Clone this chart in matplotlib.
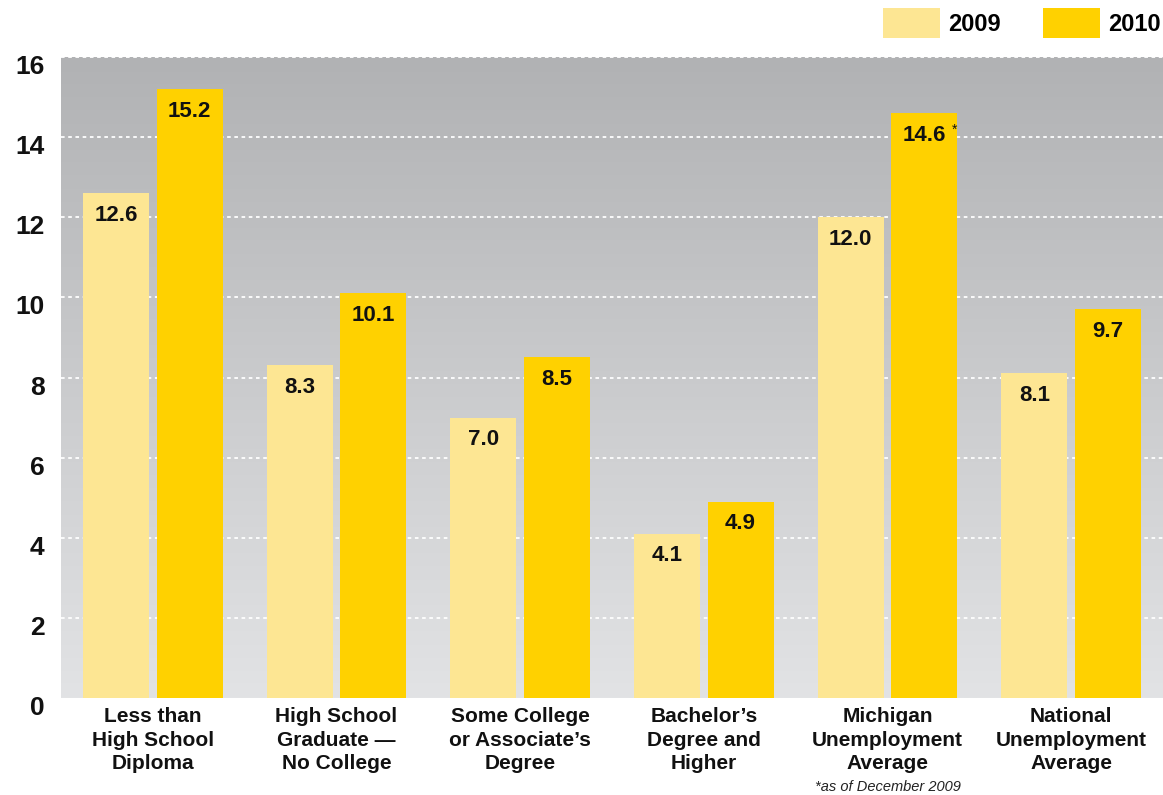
import numpy as np
import matplotlib.pyplot as plt
from matplotlib.colors import LinearSegmentedColormap

plt.rcParams['font.family'] = ['Liberation Sans', 'DejaVu Sans']

categories = ['Less than\nHigh School\nDiploma',
              'High School\nGraduate \u2014\nNo College',
              'Some College\nor Associate\u2019s\nDegree',
              'Bachelor\u2019s\nDegree and\nHigher',
              'Michigan\nUnemployment\nAverage',
              'National\nUnemployment\nAverage']
rate_2009 = [12.6, 8.3, 7.0, 4.1, 12.0, 8.1]
rate_2010 = [15.2, 10.1, 8.5, 4.9, 14.6, 9.7]
yticks = [0, 2, 4, 6, 8, 10, 12, 14, 16]

c2009 = '#fde693'
c2010 = '#ffd100'

fig = plt.figure(figsize=(11.63, 7.95), dpi=100)
ax = fig.add_axes([61 / 1163, 1 - 698 / 795, 1102 / 1163, 641 / 795])

x = np.arange(len(categories))
ax.set_xlim(-0.5, len(categories) - 0.5)
ax.set_ylim(0, 16)

# grey gradient background
grad = np.linspace(0, 1, 256).reshape(-1, 1)
cmap = LinearSegmentedColormap.from_list('bg', ['#e2e3e5', '#b1b2b4'])
ax.imshow(grad, extent=[-0.5, len(categories) - 0.5, 0, 16], origin='lower',
          aspect='auto', cmap=cmap, zorder=0)

for v in yticks[1:]:
    ax.axhline(v, color='white', lw=1.3, ls=(0, (2, 2)), zorder=1)

w = 0.36
b1 = ax.bar(x - 0.2, rate_2009, w, color=c2009, zorder=2, label='2009')
b2 = ax.bar(x + 0.2, rate_2010, w, color=c2010, zorder=2, label='2010')

for bars, vals in [(b1, rate_2009), (b2, rate_2010)]:
    for r, v in zip(bars, vals):
        ax.annotate('%.1f' % v, (r.get_x() + r.get_width() / 2, v),
                    xytext=(0, -16), textcoords='offset points',
                    ha='center', va='center', fontsize=16, fontweight='bold',
                    color='#111111', zorder=3)

# asterisk on the Michigan 2010 value
ax.annotate('*', (b2[4].get_x() + b2[4].get_width() / 2, rate_2010[4]),
            xytext=(20, -12), textcoords='offset points', ha='left', va='center',
            fontsize=10, color='#111111')

for s in ax.spines.values():
    s.set_visible(False)
ax.set_yticks([])
ax.set_xticks(x)
ax.set_xticklabels(categories, fontsize=15, fontweight='bold',
                   color='#111111', linespacing=1.3)
ax.tick_params(axis='x', length=0, pad=6.5)

for v in yticks:
    ax.text(-0.59, v - 0.25, str(v), ha='right', va='center',
            fontsize=19, fontweight='bold', color='#111111')

ax.text(4, -2.22, '*as of December 2009', ha='center', va='center',
        fontsize=10.5, style='italic', color='#222222')

fig.legend(handles=[b1, b2], loc='upper right', bbox_to_anchor=(1.005, 1.0),
           ncol=2, frameon=False, prop={'weight': 'bold', 'size': 17},
           handlelength=2.4, handleheight=1.55, handletextpad=0.35,
           columnspacing=1.8, borderaxespad=0.15, borderpad=0.2)

fig.savefig('out.png', dpi=100)
